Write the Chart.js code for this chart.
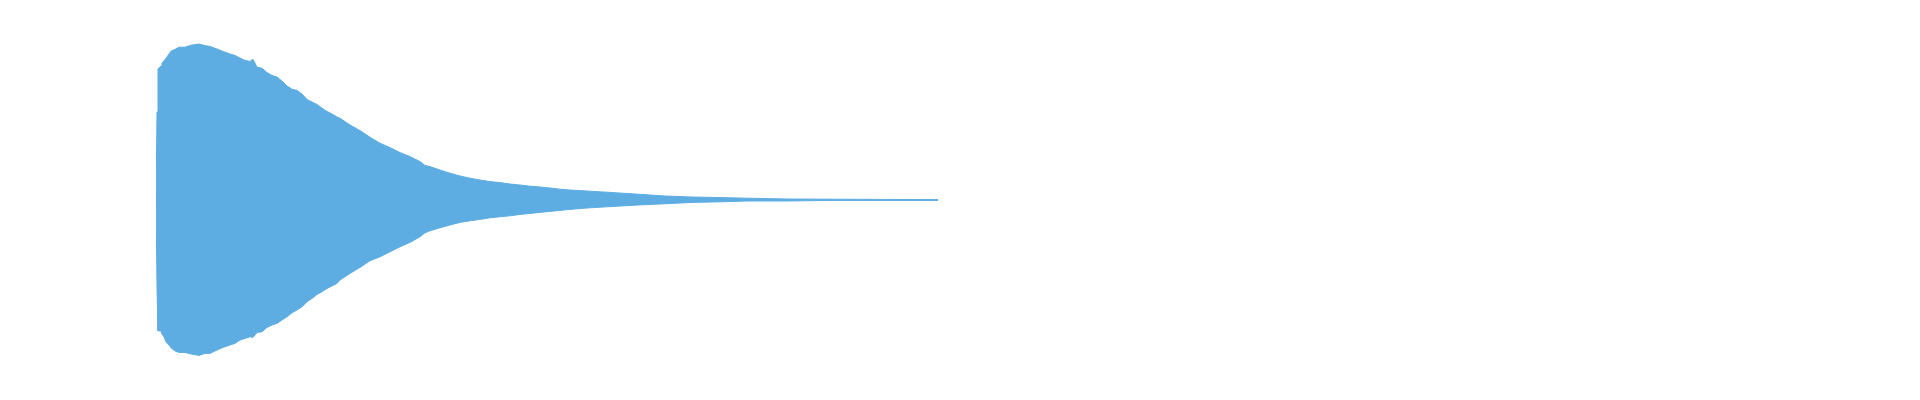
<!DOCTYPE html>
<html>
<head>
<meta charset="utf-8">
<title>Waveform</title>
<script src="https://cdn.jsdelivr.net/npm/chart.js@4/dist/chart.umd.min.js"></script>
<style>
    html, body { margin: 0; padding: 0; background: #ffffff; overflow: hidden; }
    #wave-chart { display: block; }
</style>
</head>
<body>
<canvas id="wave-chart" width="1920" height="400" style="width:1920px;height:400px"></canvas>
<script>
// time in seconds (envelope)
const timeSec = [
    0, 0.0026, 0.0051, 0.0128, 0.0153, 0.0204, 0.0255, 0.0332, 0.0383, 0.0485,
    0.0587, 0.0740, 0.0893, 0.1097, 0.125, 0.1378, 0.1556, 0.1709, 0.1888, 0.2015,
    0.2143, 0.2270, 0.2398, 0.2474, 0.2577, 0.2704, 0.2832, 0.2959, 0.3087, 0.3214,
    0.3342, 0.3469, 0.3597, 0.3724, 0.3852, 0.3980, 0.4107, 0.4235, 0.4362, 0.4490,
    0.4617, 0.4694, 0.4949, 0.5204, 0.5459, 0.5714, 0.5969, 0.6224, 0.6480, 0.6735,
    0.6862, 0.6990, 0.7245, 0.75, 0.7755, 0.8010, 0.8265, 0.8520, 0.8776, 0.9031,
    0.9286, 0.9541, 0.9796, 1.0051, 1.0306, 1.0561, 1.0816, 1.1071, 1.1505, 1.2296,
    1.2985, 1.3673, 1.4439, 1.5077, 1.6097, 1.7270, 1.8469, 1.9949
];

// peak amplitude (positive side)
const upperPeak = [
    0, 0.440, 0.655, 0.670, 0.685, 0.695, 0.708, 0.730, 0.744, 0.753,
    0.764, 0.764, 0.774, 0.780, 0.772, 0.768, 0.755, 0.743, 0.730, 0.723,
    0.710, 0.698, 0.693, 0.704, 0.664, 0.659, 0.637, 0.623, 0.615, 0.595,
    0.570, 0.554, 0.548, 0.530, 0.503, 0.490, 0.478, 0.459, 0.443, 0.430,
    0.415, 0.409, 0.375, 0.347, 0.314, 0.284, 0.262, 0.237, 0.217, 0.192,
    0.173, 0.167, 0.150, 0.134, 0.120, 0.109, 0.100, 0.092, 0.087, 0.080,
    0.075, 0.069, 0.065, 0.060, 0.054, 0.050, 0.047, 0.044, 0.039, 0.029,
    0.020, 0.015, 0.012, 0.009, 0.005, 0.004, 0.003, 0.002
];

// peak amplitude (negative side)
const lowerPeak = [
    0, -0.439, -0.654, -0.655, -0.670, -0.684, -0.709, -0.725, -0.739, -0.755,
    -0.762, -0.762, -0.770, -0.777, -0.767, -0.767, -0.750, -0.737, -0.725, -0.717,
    -0.700, -0.692, -0.684, -0.687, -0.662, -0.659, -0.637, -0.625, -0.617, -0.600,
    -0.584, -0.564, -0.550, -0.534, -0.509, -0.492, -0.472, -0.459, -0.442, -0.430,
    -0.417, -0.400, -0.367, -0.337, -0.304, -0.284, -0.259, -0.234, -0.212, -0.184,
    -0.164, -0.154, -0.139, -0.125, -0.112, -0.104, -0.097, -0.089, -0.084, -0.079,
    -0.072, -0.067, -0.062, -0.057, -0.052, -0.047, -0.043, -0.039, -0.034, -0.025,
    -0.019, -0.012, -0.009, -0.005, -0.005, -0.002, -0.002, -0.002
];

const waveColor = '#5DADE2';

function toPoints(values) {
    return values.map((v, i) => ({ x: timeSec[i], y: v }));
}

const ctx = document.getElementById('wave-chart').getContext('2d');

// upper and lower envelopes, both filled back to the zero line
new Chart(ctx, {
    type: 'line',
    data: {
        datasets: [{
            label: 'Max',
            data: toPoints(upperPeak),
            borderColor: waveColor,
            backgroundColor: waveColor,
            borderWidth: 1,
            pointRadius: 0,
            tension: 0,
            fill: 'origin'
        }, {
            label: 'Min',
            data: toPoints(lowerPeak),
            borderColor: waveColor,
            backgroundColor: waveColor,
            borderWidth: 1,
            pointRadius: 0,
            tension: 0,
            fill: 'origin'
        }]
    },
    options: {
        responsive: false,
        animation: false,
        layout: {
            padding: { left: 156, right: 0, top: 0, bottom: 0 }
        },
        plugins: {
            legend: { display: false },
            tooltip: { enabled: false }
        },
        scales: {
            x: {
                type: 'linear',
                min: 0,
                max: 4.5,
                display: false
            },
            y: {
                min: -1,
                max: 1,
                display: false
            }
        }
    }
});
</script>
</body>
</html>
